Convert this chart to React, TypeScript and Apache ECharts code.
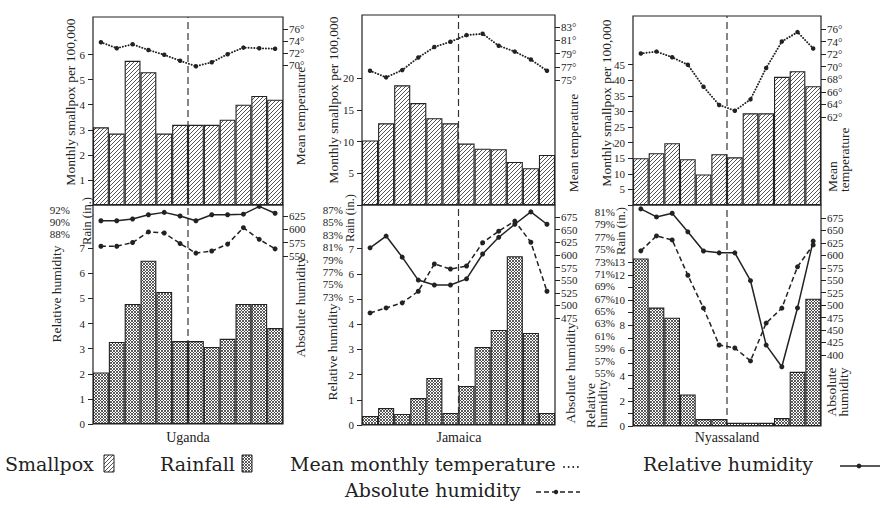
import React, { useEffect, useRef } from 'react';
import * as echarts from 'echarts';

// ---------------- DATA ----------------
const MONTHS = ['Jan', 'Feb', 'Mar', 'Apr', 'May', 'Jun', 'Jul', 'Aug', 'Sep', 'Oct', 'Nov', 'Dec'];
const DIVIDER_MONTH = 6; // dashed line between June and July

// Uganda
const UGANDA_SMALLPOX = [3.1, 2.85, 5.75, 5.3, 2.85, 3.2, 3.2, 3.2, 3.4, 4.0, 4.35, 4.2];
const UGANDA_TEMP = [73.8, 72.8, 73.45, 72.5, 71.7, 70.7, 69.8, 70.45, 71.8, 72.9, 72.8, 72.7];
const UGANDA_RAIN = [2.05, 3.27, 4.78, 6.5, 5.26, 3.3, 3.3, 3.07, 3.39, 4.78, 4.78, 3.82];
const UGANDA_RH = [90.2, 90.2, 90.5, 91.2, 91.6, 91.0, 90.2, 91.2, 91.2, 91.3, 92.6, 91.45];
const UGANDA_AH = [568, 568, 575, 595, 593, 573, 555, 559, 572, 603, 581, 563];

// Jamaica
const JAMAICA_SMALLPOX = [10.2, 12.9, 18.9, 16.1, 13.7, 12.9, 9.7, 8.9, 8.8, 6.8, 5.8, 7.9];
const JAMAICA_TEMP = [76.4, 75.4, 76.5, 78.4, 80.0, 80.8, 81.8, 82.0, 80.2, 79.3, 78.1, 76.4];
const JAMAICA_RAIN = [0.36, 0.67, 0.44, 1.07, 1.87, 0.48, 1.55, 3.1, 3.77, 6.7, 3.65, 0.48];
const JAMAICA_RH = [80.9, 82.8, 79.4, 75.7, 74.9, 74.9, 75.9, 79.9, 82.6, 84.7, 86.7, 84.7];
const JAMAICA_AH = [485, 495, 505, 528, 582, 572, 578, 624, 647, 667, 625, 528];

// Nyassaland
const NYASSALAND_SMALLPOX = [15.0, 16.6, 19.8, 14.7, 9.8, 16.3, 15.3, 29.4, 29.4, 41.1, 42.9, 38.1];
const NYASSALAND_TEMP = [72.1, 72.4, 71.5, 70.3, 66.8, 63.9, 63.0, 64.8, 69.8, 74.0, 75.5, 72.9];
const NYASSALAND_RAIN = [13.3, 9.4, 8.6, 2.5, 0.55, 0.55, 0.25, 0.25, 0.25, 0.63, 4.3, 10.1];
const NYASSALAND_RH = [81.5, 80.2, 80.8, 77.8, 74.7, 74.4, 74.4, 69.9, 59.5, 56.0, 65.5, 76.3];
const NYASSALAND_AH = [609, 639, 631, 560, 494, 420, 414, 388, 464, 494, 577, 621];

// Tick labels
const UG_SP_TICKS = [1, 2, 3, 4, 5, 6];
const JA_SP_TICKS = [5, 10, 15, 20];
const NY_SP_TICKS = [5, 10, 15, 20, 25, 30, 35, 40, 45];
const UG_TEMP_TICKS = [70, 72, 74, 76];
const JA_TEMP_TICKS = [75, 77, 79, 81, 83];
const NY_TEMP_TICKS = [62, 64, 66, 68, 70, 72, 74, 76];
const UG_RAIN_TICKS = [0, 1, 2, 3, 4, 5, 6, 7];
const JA_RAIN_TICKS = [0, 1, 2, 3, 4, 5, 6, 7];
const NY_RAIN_TICKS = [0, 1, 2, 3, 4, 5, 6, 7, 8, 9, 10, 11, 12, 13];
const NY_RAIN_LABELS = [0, 2, 4, 6, 8, 10, 12, 13];
const UG_RH_LABELS = [88, 90, 92];
const JA_RH_LABELS = [73, 75, 77, 79, 81, 83, 85, 87];
const NY_RH_LABELS = [55, 57, 59, 61, 63, 65, 67, 69, 71, 73, 75, 77, 79, 81];
const UG_AH_TICKS = [550, 575, 600, 625];
const JA_AH_TICKS = [475, 500, 525, 550, 575, 600, 625, 650, 675];
const NY_AH_TICKS = [400, 425, 450, 475, 500, 525, 550, 575, 600, 625, 650, 675];

const PANELS = [
  { title: 'Uganda', smallpox: UGANDA_SMALLPOX, temp: UGANDA_TEMP, rain: UGANDA_RAIN, rh: UGANDA_RH, ah: UGANDA_AH,
    spTicks: UG_SP_TICKS, tempTicks: UG_TEMP_TICKS, rainTicks: UG_RAIN_TICKS, rainLabels: UG_RAIN_TICKS, rhLabels: UG_RH_LABELS, ahTicks: UG_AH_TICKS },
  { title: 'Jamaica', smallpox: JAMAICA_SMALLPOX, temp: JAMAICA_TEMP, rain: JAMAICA_RAIN, rh: JAMAICA_RH, ah: JAMAICA_AH,
    spTicks: JA_SP_TICKS, tempTicks: JA_TEMP_TICKS, rainTicks: JA_RAIN_TICKS, rainLabels: JA_RAIN_TICKS, rhLabels: JA_RH_LABELS, ahTicks: JA_AH_TICKS },
  { title: 'Nyassaland', smallpox: NYASSALAND_SMALLPOX, temp: NYASSALAND_TEMP, rain: NYASSALAND_RAIN, rh: NYASSALAND_RH, ah: NYASSALAND_AH,
    spTicks: NY_SP_TICKS, tempTicks: NY_TEMP_TICKS, rainTicks: NY_RAIN_TICKS, rainLabels: NY_RAIN_LABELS, rhLabels: NY_RH_LABELS, ahTicks: NY_AH_TICKS },
];

// ---------------- LAYOUT ----------------
const FRAMES = [
  { left: 93, width: 190, top: 17, mid: 205, bottom: 424,
    sp: [0, 7.5], temp: [46.67, 78.0], rain: [0, 8.72], rh: [56.33, 92.83], ah: [232.5, 645.8], rhMargin: 23 },
  { left: 362, width: 193, top: 15, mid: 205, bottom: 425,
    sp: [0, 30], temp: [56.06, 84.85], rain: [0, 8.73], rh: [52.32, 87.81], ah: [263.1, 698.8], rhMargin: 19 },
  { left: 633, width: 188, top: 16, mid: 205, bottom: 426,
    sp: [0, 60.6], temp: [48.0, 78.06], rain: [0, 17.54], rh: [46.43, 82.13], ah: [257.3, 701.1], rhMargin: 18 },
];

const INK = '#222';
const SERIF = 'Liberation Serif';
const LEGEND_FONT = 'DejaVu Serif';
const LEGEND_SIZE = 19;

const svgUrl = (s: string) => 'data:image/svg+xml;base64,' + btoa(s);
const HATCH: any = {
  image: svgUrl('<svg xmlns="http://www.w3.org/2000/svg" width="4" height="4"><rect width="4" height="4" fill="#fff"/><path d="M-1,1L1,-1M0,4L4,0M3,5L5,3" stroke="#2a2a2a" stroke-width="0.8"/></svg>'),
  repeat: 'repeat', imageWidth: 4, imageHeight: 4,
};
const CROSS: any = {
  image: svgUrl('<svg xmlns="http://www.w3.org/2000/svg" width="3" height="3"><rect width="3" height="3" fill="#fff"/><path d="M0,0L3,3M3,0L0,3" stroke="#333" stroke-width="0.8"/></svg>'),
  repeat: 'repeat', imageWidth: 3, imageHeight: 3,
};

function yAxis(gridIndex: number, position: string, range: number[], ticks: number[] | null, labels: number[], suffix: string, margin: number) {
  return {
    type: 'value', gridIndex, position, min: range[0], max: range[1],
    axisLine: { show: false }, splitLine: { show: false },
    axisTick: ticks ? { show: true, length: 5, customValues: ticks, lineStyle: { color: INK, width: 1 } } : { show: false },
    axisLabel: { show: true, customValues: labels, margin, color: INK, fontSize: 11, fontFamily: SERIF,
      formatter: (v: number) => v + suffix },
  };
}

function vText(text: string, x: number, y: number, align = 'center', size = 13.5) {
  return {
    type: 'text', x, y, rotation: Math.PI / 2, silent: true,
    style: { text, fill: INK, fontSize: size, fontFamily: SERIF, align, verticalAlign: 'middle', textAlign: align, textVerticalAlign: 'middle', lineHeight: 12 },
  };
}
function hText(text: string, x: number, y: number, align: string, size: number, family: string) {
  return {
    type: 'text', x, y, silent: true,
    style: { text, fill: INK, fontSize: size, fontFamily: family, align, verticalAlign: 'middle', textAlign: align, textVerticalAlign: 'middle' },
  };
}

function buildOption() {
  const grid: any[] = [];
  const xAxis: any[] = [];
  const yAxes: any[] = [];
  const series: any[] = [];

  PANELS.forEach((p, k) => {
    const f = FRAMES[k];
    const gTop = 2 * k;
    const gBot = 2 * k + 1;
    grid.push({ left: f.left, width: f.width, top: f.top, height: f.mid - f.top, show: true, borderColor: INK, borderWidth: 1.2, backgroundColor: 'transparent' });
    grid.push({ left: f.left, width: f.width, top: f.mid, height: f.bottom - f.mid, show: true, borderColor: INK, borderWidth: 1.2, backgroundColor: 'transparent' });
    [gTop, gBot].forEach((g) => {
      xAxis.push({ type: 'category', gridIndex: g, data: MONTHS, boundaryGap: true, show: false });
      xAxis.push({ type: 'value', gridIndex: g, min: 0, max: MONTHS.length, show: false });
    });
    const ySp = 5 * k, yT = 5 * k + 1, yR = 5 * k + 2, yRh = 5 * k + 3, yAh = 5 * k + 4;
    yAxes.push(yAxis(gTop, 'left', f.sp, [0, ...p.spTicks], p.spTicks, '', 8));
    yAxes.push(yAxis(gTop, 'right', f.temp, p.tempTicks, p.tempTicks, '°', 6));
    yAxes.push(yAxis(gBot, 'left', f.rain, p.rainTicks, p.rainLabels, '', 8));
    yAxes.push(yAxis(gBot, 'left', f.rh, null, p.rhLabels, '%', f.rhMargin));
    yAxes.push(yAxis(gBot, 'right', f.ah, p.ahTicks, p.ahTicks, '', 6));

    const divider = { color: '#333', width: 1.2, type: [7, 4] };
    // top panel
    series.push({ type: 'line', xAxisIndex: 2 * gTop + 1, yAxisIndex: ySp, data: [[DIVIDER_MONTH, f.sp[0]], [DIVIDER_MONTH, f.sp[1]]], symbol: 'none', lineStyle: divider, silent: true });
    series.push({ type: 'bar', name: 'Smallpox', xAxisIndex: 2 * gTop, yAxisIndex: ySp, data: p.smallpox, barCategoryGap: '0%', itemStyle: { color: HATCH, borderColor: INK, borderWidth: 1.1 }, silent: true });
    series.push({ type: 'line', name: 'Mean monthly temperature', xAxisIndex: 2 * gTop, yAxisIndex: yT, data: p.temp, symbol: 'circle', symbolSize: 4.5, itemStyle: { color: INK }, lineStyle: { color: INK, width: 1.9, type: [0.1, 2.8], cap: 'round' }, silent: true });
    // bottom panel
    series.push({ type: 'line', xAxisIndex: 2 * gBot + 1, yAxisIndex: yR, data: [[DIVIDER_MONTH, f.rain[0]], [DIVIDER_MONTH, f.rain[1]]], symbol: 'none', lineStyle: divider, silent: true });
    series.push({ type: 'bar', name: 'Rainfall', xAxisIndex: 2 * gBot, yAxisIndex: yR, data: p.rain, barCategoryGap: '0%', itemStyle: { color: CROSS, borderColor: INK, borderWidth: 1.1 }, silent: true });
    series.push({ type: 'line', name: 'Relative humidity', xAxisIndex: 2 * gBot, yAxisIndex: yRh, data: p.rh, symbol: 'circle', symbolSize: 5, itemStyle: { color: INK }, lineStyle: { color: INK, width: 1.5 }, silent: true });
    series.push({ type: 'line', name: 'Absolute humidity', xAxisIndex: 2 * gBot, yAxisIndex: yAh, data: p.ah, symbol: 'circle', symbolSize: 5, itemStyle: { color: INK }, lineStyle: { color: INK, width: 1.5, type: [5, 3] }, silent: true });
  });

  const graphic: any[] = [
    // Uganda
    vText('Monthly smallpox per 100,000', 70, 102),
    vText('Mean temperature', 300, 116),
    vText('Relative humidity', 56, 294),
    vText('Rain (in.)', 87, 221, 'center', 12.5),
    vText('Absolute humidity', 300, 307),
    hText('Uganda', 188, 437, 'center', 14, SERIF),
    // Jamaica
    vText('Monthly smallpox per 100,000', 333, 100),
    vText('Mean temperature', 573, 143),
    vText('Relative humidity', 332, 352),
    vText('Rain (in.)', 350, 218, 'center', 12.5),
    vText('Absolute humidity', 570, 373),
    hText('Jamaica', 459, 437, 'center', 14, SERIF),
    // Nyassaland
    vText('Monthly smallpox per 100,000', 606, 103),
    vText('Mean\ntemperature', 838, 192, 'left'),
    vText('Relative\nhumidity', 596, 428, 'left'),
    vText('Rain (in.)', 621, 231, 'center', 12.5),
    vText('Absolute\nhumidity', 837, 392),
    hText('Nyassaland', 727, 437, 'center', 14, SERIF),
    // Legend
    hText('Smallpox', 5, 464, 'left', LEGEND_SIZE, LEGEND_FONT),
    { type: 'rect', shape: { x: 104, y: 455, width: 10, height: 17 }, style: { fill: HATCH, stroke: INK, lineWidth: 1 }, silent: true },
    hText('Rainfall', 160, 464, 'left', LEGEND_SIZE, LEGEND_FONT),
    { type: 'rect', shape: { x: 242, y: 455, width: 10, height: 17 }, style: { fill: CROSS, stroke: INK, lineWidth: 1 }, silent: true },
    hText('Mean monthly temperature', 290, 464, 'left', LEGEND_SIZE, LEGEND_FONT),
    { type: 'line', shape: { x1: 564, y1: 467, x2: 582, y2: 467 }, style: { stroke: INK, lineWidth: 1.8, lineDash: [0.1, 4.5], lineCap: 'round' }, silent: true },
    hText('Relative humidity', 643, 464, 'left', LEGEND_SIZE, LEGEND_FONT),
    { type: 'line', shape: { x1: 840, y1: 466, x2: 880, y2: 466 }, style: { stroke: INK, lineWidth: 1.4 }, silent: true },
    { type: 'circle', shape: { cx: 859, cy: 466, r: 2.4 }, style: { fill: INK }, silent: true },
    hText('Absolute humidity', 345, 490, 'left', LEGEND_SIZE, LEGEND_FONT),
    { type: 'line', shape: { x1: 536, y1: 492, x2: 580, y2: 492 }, style: { stroke: INK, lineWidth: 1.4, lineDash: [5, 3] }, silent: true },
    { type: 'circle', shape: { cx: 556, cy: 492, r: 2.2 }, style: { fill: INK }, silent: true },
  ];

  return {
    animation: false,
    backgroundColor: '#fff',
    textStyle: { fontFamily: SERIF, color: INK },
    grid, xAxis, yAxis: yAxes, series, graphic,
  };
}

export default function App() {
  const ref = useRef<HTMLDivElement>(null);
  useEffect(() => {
    const chart = echarts.init(ref.current as HTMLDivElement, null, { renderer: 'svg' });
    chart.setOption(buildOption() as any);
    return () => chart.dispose();
  }, []);
  return <div ref={ref} style={{ position: 'fixed', left: 0, top: 0, width: 882, height: 508 }} />;
}
